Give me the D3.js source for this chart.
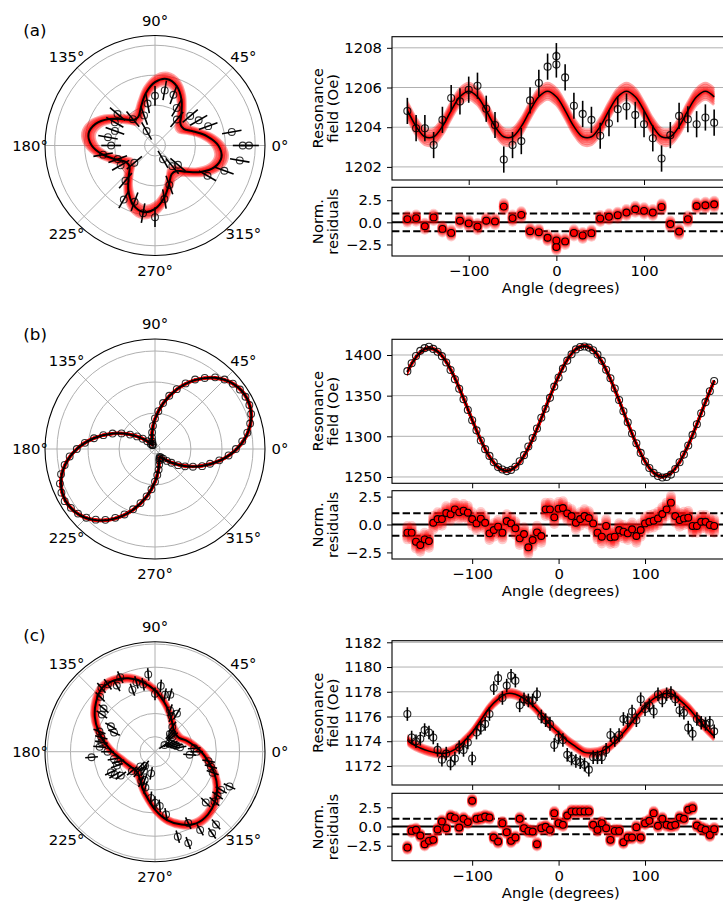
<!DOCTYPE html>
<html>
<head>
<meta charset="utf-8">
<script src="https://cdn.jsdelivr.net/npm/d3@7"></script>
<style>
  body { margin: 0; background: #fff; }
  text { font-family: "DejaVu Sans", sans-serif; }
</style>
</head>
<body>
<script>
// ---- data ----
const fitAngles = [-180,-170,-160,-150,-140,-130,-120,-110,-100,-90,-80,-70,-60,-50,-40,-30,-20,-10,0,
  10,20,30,40,50,60,70,80,90,100,110,120,130,140,150,160,170,180];

// (a) 10 deg steps, two measurements at 0
const anglesA = [-170,-160,-150,-140,-130,-120,-110,-100,-90,-80,-70,-60,-50,-40,-30,-20,-10,0,0,
  10,20,30,40,50,60,70,80,90,100,110,120,130,140,150,160,170,180];
const fieldA = [1204.82,1203.95,1203.95,1203.10,1204.37,1205.47,1205.30,1205.89,1206.09,1204.93,1204.11,
  1202.37,1203.10,1203.30,1205.35,1206.23,1207.05,1207.58,1207.16,1206.51,1205.08,1204.67,1204.37,1203.57,
  1204.20,1204.91,1205.04,1204.62,1204.15,1203.44,1202.42,1203.60,1204.57,1204.40,1204.15,1204.49,1204.23];
const residA = [0.37,0.48,-0.44,0.56,-0.74,-1.19,0.19,-0.11,-0.48,0.19,0.11,1.78,0.48,0.85,-1.00,-1.11,-1.74,
  -2.78,-2.04,-2.15,-1.19,-1.48,-1.22,0.44,0.63,0.81,1.11,1.48,1.30,1.11,1.74,-0.19,-1.04,0.37,1.85,1.93,2.04];
const fitA = [1205.53,1204.84,1204.04,1203.52,1203.52,1204.04,1204.84,1205.53,1205.81,1205.53,1204.84,1204.04,
  1203.52,1203.52,1204.04,1204.84,1205.53,1205.81,1205.53,1204.84,1204.04,1203.52,1203.52,1204.04,1204.84,
  1205.53,1205.81,1205.53,1204.84,1204.04,1203.52,1203.52,1204.04,1204.84,1205.53,1205.81,1205.53];

// (b) and (c) 5 deg steps
const anglesBC = [-175,-170,-165,-160,-155,-150,-145,-140,-135,-130,-125,-120,-115,-110,-105,-100,-95,-90,
  -85,-80,-75,-70,-65,-60,-55,-50,-45,-40,-35,-30,-25,-20,-15,-10,-5,0,5,10,15,20,25,30,35,40,45,50,55,60,
  65,70,75,80,85,90,95,100,105,110,115,120,125,130,135,140,145,150,155,160,165,170,175,180];
const fieldB = [1380.1,1389.9,1398.8,1405.1,1408.4,1410.1,1407.5,1404.0,1398.6,1390.7,
  1381.5,1370.2,1358.5,1345.5,1332.4,1319.7,1307.3,1294.8,1284.2,1275.9,
  1268.0,1262.1,1259.2,1257.2,1258.7,1262.6,1269.3,1276.8,1287.5,1298.0,
  1309.6,1322.9,1333.9,1347.3,1361.1,1372.4,1383.2,1393.1,1400.8,1406.9,
  1409.8,1410.4,1409.1,1405.8,1400.5,1392.8,1381.8,1371.4,1358.7,1344.7,
  1330.9,1317.3,1303.4,1291.5,1279.6,1269.1,1261.0,1255.0,1251.2,1249.4,
  1250.0,1252.9,1259.8,1268.0,1277.5,1288.6,1301.7,1314.9,1328.3,1342.0,1355.5,1368.1];
const residB = [-0.73,-0.73,-1.54,-1.84,-1.33,-1.48,0.16,0.49,0.49,1.03,
  0.91,1.36,1.09,1.24,1.06,0.49,0.10,0.52,0.16,-0.79,
  -0.49,-0.19,-0.73,0.31,0.10,-0.34,-1.24,-0.85,-2.04,-1.39,
  -0.70,-1.03,1.36,1.36,0.64,1.42,1.48,1.00,0.76,0.16,
  0.49,0.76,0.58,0.10,-0.73,-1.09,-0.13,-1.15,-1.09,-0.49,
  -0.64,-0.79,-0.43,-1.03,-0.49,0.10,0.25,0.34,0.55,0.94,
  1.36,1.96,0.76,0.40,0.55,0.61,-0.13,-0.13,0.25,0.25,-0.04,-0.13];
const fitB = [1368.0,1389.2,1403.3,1408.6,1404.5,1391.7,1371.6,1346.7,1320.2,1295.3,1275.1,1261.9,1257.5,
  1262.3,1275.9,1296.6,1321.9,1348.7,1373.8,1394.1,1407.1,1411.2,1405.9,1391.7,1370.2,1344.2,1316.5,1290.5,
  1269.2,1255.3,1250.3,1254.9,1268.4,1289.2,1314.8,1342.2,1368.0];

const fieldC = [1176.2,1174.3,1174.0,1174.2,1174.9,1174.7,1174.3,1173.3,1172.5,1173.0,
  1172.2,1172.6,1173.5,1173.3,1173.9,1172.6,1174.7,1175.1,1175.4,1176.2,
  1178.3,1179.1,1177.5,1178.5,1179.3,1178.9,1176.9,1177.4,1177.3,1177.3,
  1177.8,1176.0,1175.7,1175.4,1173.7,1174.3,1174.1,1172.9,1172.6,1172.4,
  1172.3,1172.1,1171.7,1172.7,1172.7,1172.7,1173.3,1174.5,1174.1,1174.5,
  1175.8,1175.7,1176.4,1175.7,1177.4,1176.6,1176.9,1176.4,1177.8,1177.3,
  1177.8,1177.9,1177.4,1176.5,1176.3,1175.1,1174.6,1175.8,1175.5,1175.4,1175.5,1174.8];
const residC = [-2.74,-0.57,-0.43,-1.17,-2.30,-1.87,-1.74,-0.39,0.65,-0.22,
  1.30,1.09,-0.13,1.00,0.57,3.35,1.00,1.09,1.30,1.17,
  -1.43,-1.96,0.43,-0.74,-1.87,-1.43,1.00,-0.22,-0.57,-0.65,
  -2.30,-0.22,-0.04,-0.43,1.74,0.43,0.22,1.43,1.96,1.96,
  1.96,1.96,1.96,0.22,-0.43,0.43,-0.22,-1.74,-0.57,-0.57,
  -2.04,-1.43,-1.43,-0.09,-1.43,0.43,0.74,1.74,0.09,1.00,
  0.22,0.09,0.22,1.17,1.00,2.17,2.39,0.13,-0.22,-0.43,-1.09,-0.35];
const fitC = [1174.4,1173.8,1173.45,1173.2,1173.05,1173.05,1173.35,1173.95,1174.7,1175.7,1176.7,1177.4,
  1177.85,1177.8,1177.45,1176.9,1176.15,1175.35,1174.7,1174.05,1173.55,1173.1,1173.05,1173.2,1173.65,
  1174.3,1175.1,1176.0,1176.8,1177.45,1177.8,1177.85,1177.35,1176.7,1175.9,1175.1,1174.4];

const ticksA = [1202, 1204, 1206, 1208];
const ticksB = [1250, 1300, 1350, 1400];
const ticksC = [1172, 1174, 1176, 1178, 1180, 1182];
const ringsC = [1172, 1174, 1176, 1178, 1180];
const residTicks = [-2.5, 0, 2.5];
const angleTicks = [-100, 0, 100];
const polarAngles = [0, 45, 90, 135, 180, 225, 270, 315];

// spread of the posterior sample curves / residual samples
const bandOffsets = [-0.4,-0.3,-0.22,-0.15,-0.1,-0.06,-0.03,0,0.03,0.06,0.1,0.15,0.22,0.3,0.4];
const smearOffsets = [-1,-0.7,-0.45,-0.25,-0.1,0,0.1,0.25,0.45,0.7,1];

const panels = [
  { tag: '(a)', tagY: 36, cy: 145.5, angles: anglesA, field: fieldA, err: 0.66, resid: residA, fit: fitA,
    yDomain: [1201.34, 1208.56], yTicks: ticksA, rDomain: [1201.3, 1208.65], rings: ticksA,
    top: [36.7, 180], bot: [187.3, 256], residDomain: [-3.8, 3.96], xDomain: [-187.5, 197.5],
    band: 1, spread: 0.4 },
  { tag: '(b)', tagY: 339.5, cy: 449, angles: anglesBC, field: fieldB, err: 1.0, resid: residB, fit: fitB,
    yDomain: [1242.2, 1419.3], yTicks: ticksB, rDomain: [1242.2, 1419.3], rings: ticksB,
    top: [339.3, 483.3], bot: [490.7, 559], residDomain: [-3.09, 3.03], xDomain: [-192.75, 197.75],
    band: 2, spread: 0.6 },
  { tag: '(c)', tagY: 641, cy: 751.7, angles: anglesBC, field: fieldC, err: 0.55, resid: residC, fit: fitC,
    yDomain: [1170.46, 1182.13], yTicks: ticksC, rDomain: [1170.7, 1180.2], rings: ringsC,
    top: [640.7, 785], bot: [793.3, 860.7], residDomain: [-4.45, 4.32], xDomain: [-192.75, 197.75],
    band: 0.8, spread: 0.3 }
];

const FS = 14.8, GRID = '#b0b0b0';
const X0 = 392, X1 = 729.5;

const svg = d3.select('body').append('svg')
    .attr('width', 723)
    .attr('height', 902);

function styleAxis(g) {
  g.select('.domain').remove();
  g.selectAll('text').attr('font-size', FS).attr('font-family', '"DejaVu Sans", sans-serif').attr('fill', '#000');
  g.selectAll('line').attr('stroke', '#000').attr('stroke-width', 1);
}

function drawPolar(p) {
  const cx = 155, cy = p.cy, R = 110;
  const r = d3.scaleLinear().domain(p.rDomain).range([0, R]);
  const pt = (deg, v) => {
    const a = deg * Math.PI / 180, rr = r(v);
    return [cx + rr * Math.cos(a), cy - rr * Math.sin(a)];
  };
  const g = svg.append('g');

  g.selectAll('.ring').data(p.rings).join('circle')
      .attr('cx', cx).attr('cy', cy).attr('r', d => r(d))
      .attr('fill', 'none').attr('stroke', GRID).attr('stroke-width', 1);
  g.selectAll('.spoke').data(polarAngles).join('line')
      .attr('x1', cx).attr('y1', cy)
      .attr('x2', d => cx + R * Math.cos(d * Math.PI / 180))
      .attr('y2', d => cy - R * Math.sin(d * Math.PI / 180))
      .attr('stroke', GRID).attr('stroke-width', 1);

  // fit samples + best fit (closed curve)
  const closed = d3.line().curve(d3.curveCatmullRomClosed);
  const ring = off => p.fit.slice(0, -1).map((v, i) => pt(fitAngles[i], v + off));
  g.selectAll('.band').data(bandOffsets).join('path')
      .attr('d', d => closed(ring(d * p.band)))
      .attr('fill', 'none').attr('stroke', '#ff0000').attr('stroke-opacity', 0.35).attr('stroke-width', 3);
  g.append('path').attr('d', closed(ring(0)))
      .attr('fill', 'none').attr('stroke', '#000').attr('stroke-width', 2);

  // error bars + markers
  g.selectAll('.eb').data(p.field).join('line')
      .attr('x1', (d, i) => pt(p.angles[i], d - p.err)[0]).attr('y1', (d, i) => pt(p.angles[i], d - p.err)[1])
      .attr('x2', (d, i) => pt(p.angles[i], d + p.err)[0]).attr('y2', (d, i) => pt(p.angles[i], d + p.err)[1])
      .attr('stroke', '#000').attr('stroke-width', 1.6);
  g.selectAll('.pt').data(p.field).join('circle')
      .attr('cx', (d, i) => pt(p.angles[i], d)[0]).attr('cy', (d, i) => pt(p.angles[i], d)[1])
      .attr('r', 3.4).attr('fill', 'none').attr('stroke', '#000').attr('stroke-opacity', 0.8).attr('stroke-width', 1.1);

  g.append('circle').attr('cx', cx).attr('cy', cy).attr('r', R)
      .attr('fill', 'none').attr('stroke', '#000').attr('stroke-width', 1.1);

  g.selectAll('.lab').data(polarAngles).join('text')
      .attr('x', d => cx + 125 * Math.cos(d * Math.PI / 180))
      .attr('y', d => cy - 125 * Math.sin(d * Math.PI / 180) + 5.3)
      .attr('text-anchor', 'middle').attr('font-size', FS)
      .text(d => d + '°');

  svg.append('text').attr('x', 23.3).attr('y', p.tagY).attr('font-size', 16.7).text(p.tag);
}

function drawCart(p, k) {
  const x = d3.scaleLinear().domain(p.xDomain).range([X0, X1]);
  const y = d3.scaleLinear().domain(p.yDomain).range([p.top[1], p.top[0]]);
  const yr = d3.scaleLinear().domain(p.residDomain).range([p.bot[1], p.bot[0]]);
  const g = svg.append('g');

  svg.append('clipPath').attr('id', 'fitclip' + k).append('rect')
      .attr('x', x(p.angles[0])).attr('y', p.top[0])
      .attr('width', X1 - x(p.angles[0])).attr('height', p.top[1] - p.top[0]);

  // ---- top: resonance field ----
  g.selectAll('.grid').data(p.yTicks).join('line')
      .attr('x1', X0).attr('x2', X1).attr('y1', d => y(d)).attr('y2', d => y(d))
      .attr('stroke', GRID).attr('stroke-width', 1);

  const line = d3.line().x((d, i) => x(fitAngles[i])).y(d => y(d)).curve(d3.curveCatmullRom);
  const fg = g.append('g').attr('clip-path', `url(#fitclip${k})`);
  fg.selectAll('.band').data(bandOffsets).join('path')
      .attr('d', off => line(p.fit.map(v => v + off * p.band)))
      .attr('fill', 'none').attr('stroke', '#ff0000').attr('stroke-opacity', 0.35).attr('stroke-width', 3);
  fg.append('path').attr('d', line(p.fit))
      .attr('fill', 'none').attr('stroke', '#000').attr('stroke-width', 1.5);

  g.selectAll('.eb').data(p.field).join('line')
      .attr('x1', (d, i) => x(p.angles[i])).attr('x2', (d, i) => x(p.angles[i]))
      .attr('y1', d => y(d - p.err)).attr('y2', d => y(d + p.err))
      .attr('stroke', '#000').attr('stroke-width', 1.6);
  g.selectAll('.pt').data(p.field).join('circle')
      .attr('cx', (d, i) => x(p.angles[i])).attr('cy', d => y(d))
      .attr('r', 3.5).attr('fill', 'none').attr('stroke', '#000').attr('stroke-opacity', 0.85).attr('stroke-width', 1.1);

  g.append('rect').attr('x', X0).attr('y', p.top[0]).attr('width', X1 - X0).attr('height', p.top[1] - p.top[0])
      .attr('fill', 'none').attr('stroke', '#000').attr('stroke-width', 1.1);
  g.append('g').attr('transform', `translate(${X0},0)`)
      .call(d3.axisLeft(y).tickValues(p.yTicks).tickSize(5).tickPadding(5).tickFormat(d3.format('d')))
      .call(styleAxis);
  g.append('g').attr('transform', `translate(0,${p.top[1]})`)
      .call(d3.axisBottom(x).tickValues(angleTicks).tickSize(5).tickFormat(''))
      .call(styleAxis);

  const midTop = (p.top[0] + p.top[1]) / 2;
  [['Resonance', 322.5], ['field (Oe)', 338]].forEach(([t, bx]) =>
    g.append('text').attr('transform', `translate(${bx},${midTop}) rotate(-90)`)
      .attr('text-anchor', 'middle').attr('font-size', FS).text(t));

  // ---- bottom: normalised residuals ----
  g.append('line').attr('x1', X0).attr('x2', X1).attr('y1', yr(0)).attr('y2', yr(0))
      .attr('stroke', '#000').attr('stroke-width', 2);
  g.selectAll('.dash').data([-1, 1]).join('line')
      .attr('x1', X0).attr('x2', X1).attr('y1', d => yr(d)).attr('y2', d => yr(d))
      .attr('stroke', '#000').attr('stroke-width', 2).attr('stroke-dasharray', '7.4,3.2');

  const smear = g.append('g');
  p.resid.forEach((v, i) => {
    smear.selectAll(null).data(smearOffsets).join('circle')
        .attr('cx', x(p.angles[i])).attr('cy', d => yr(v + d * p.spread))
        .attr('r', 5).attr('fill', '#ff0000').attr('fill-opacity', 0.2);
  });
  g.selectAll('.rpt').data(p.resid).join('circle')
      .attr('cx', (d, i) => x(p.angles[i])).attr('cy', d => yr(d))
      .attr('r', 3.4).attr('fill', '#ff0000').attr('stroke', '#000').attr('stroke-width', 1.1);

  g.append('rect').attr('x', X0).attr('y', p.bot[0]).attr('width', X1 - X0).attr('height', p.bot[1] - p.bot[0])
      .attr('fill', 'none').attr('stroke', '#000').attr('stroke-width', 1.1);
  g.append('g').attr('transform', `translate(${X0},0)`)
      .call(d3.axisLeft(yr).tickValues(residTicks).tickSize(5).tickPadding(5).tickFormat(d3.format('.1f')))
      .call(styleAxis);
  g.append('g').attr('transform', `translate(0,${p.bot[1]})`)
      .call(d3.axisBottom(x).tickValues(angleTicks).tickSize(5).tickPadding(4.5).tickFormat(d3.format('d')))
      .call(styleAxis);

  const midBot = (p.bot[0] + p.bot[1]) / 2;
  [['Norm.', 322.5], ['residuals', 338]].forEach(([t, bx]) =>
    g.append('text').attr('transform', `translate(${bx},${midBot}) rotate(-90)`)
      .attr('text-anchor', 'middle').attr('font-size', FS).text(t));
  g.append('text').attr('x', (X0 + X1) / 2).attr('y', p.bot[1] + 37.3)
      .attr('text-anchor', 'middle').attr('font-size', FS).text('Angle (degrees)');
}

panels.forEach((p, k) => {
  drawPolar(p);
  drawCart(p, k);
});
</script>
</body>
</html>
